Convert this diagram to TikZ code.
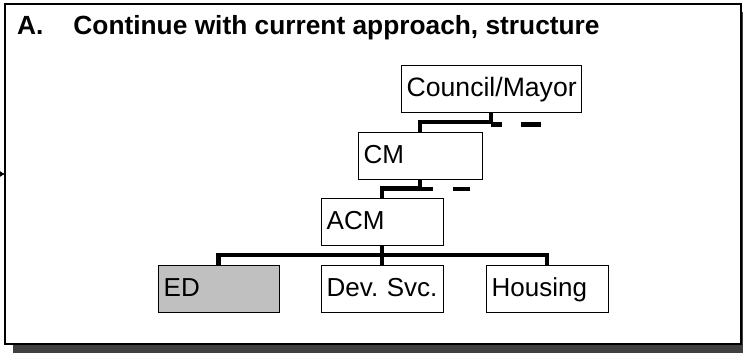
\documentclass[tikz,border=0pt]{standalone}
\usepackage{fontspec}
\setmainfont{Liberation Sans}
\usetikzlibrary{arrows.meta}
\definecolor{shadowgray}{HTML}{404040}
\definecolor{edgray}{HTML}{C0C0C0}
\frenchspacing

\begin{document}
\begin{tikzpicture}[x=1pt,y=-1pt,
  orgbox/.style={draw=black, line width=1.4pt, fill=white, anchor=north west,
    inner xsep=5pt, inner ysep=0pt, minimum height=47pt, align=left,
    text height=20pt, text depth=5pt,
    font=\fontsize{26}{28}\selectfont},
  conn/.style={draw=black, line width=4.5pt, line join=miter},
  dashlink/.style={conn, dash pattern=on 11pt off 19pt on 20pt off 100pt}]

  \useasboundingbox (0,0) rectangle (743,353);

  % drop shadow and panel frame
  \fill[shadowgray] (13,12) rectangle (749,353);
  \draw[fill=white, line width=2pt] (5,4) rectangle (741,344);

  % heading
  \node[anchor=base west, inner sep=0pt, font=\bfseries\fontsize{26.3}{30}\selectfont]
    (ttl) at (17,35) {A.\hspace{30pt}Continue with current approach, structure};

  % incoming arrow at the left edge
  \coordinate (inA) at (-4,174);
  \coordinate (inB) at (5,174);
  \draw[line width=1.2pt, -{Latex[length=5pt,width=6pt]}] (inA) -- (inB);

  % connectors
  \coordinate (council-s) at (491,112);
  \coordinate (cm-s) at (420,178);
  \coordinate (acm-s) at (382,245);

  \draw[conn] (council-s) -- ++(0,10) -| (420,132);
  \draw[dashlink] (council-s) ++(0,12.5) -- ++(55,0);

  \draw[conn] (cm-s) -- ++(0,10.5) -| (382,198);
  \draw[dashlink, dash pattern=on 13pt off 20pt on 17pt off 100pt] (cm-s) ++(0,11) -- ++(55,0);

  \draw[conn] (acm-s) -- ++(0,10) coordinate (bus);
  \draw[conn] (218.5,265) |- (bus) -| (547,265);
  \draw[conn] (bus) -- (382,265);

  % boxes
  \node[orgbox, text width=170pt, font=\fontsize{26.6}{30}\selectfont] (council) at (401,65) {\mbox{Council/Mayor}};
  \node[orgbox, text width=114pt] (cm) at (358,132) {\mbox{CM}};
  \node[orgbox, text width=112pt] (acm) at (321,198) {\mbox{ACM}};
  \node[orgbox, text width=111pt, fill=edgray] (ed) at (158,265) {\mbox{ED}};
  \node[orgbox, text width=112pt] (dev) at (321,265) {\mbox{Dev. Svc.}};
  \node[orgbox, text width=112pt] (housing) at (486,265) {\mbox{Housing}};
\end{tikzpicture}
\end{document}
